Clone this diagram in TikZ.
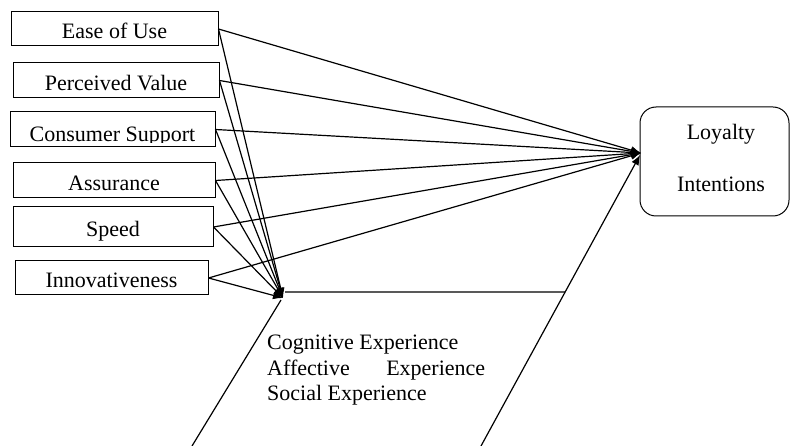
\documentclass[tikz,border=0pt]{standalone}
\usepackage{fontspec}
\setmainfont{Liberation Serif}
\usetikzlibrary{arrows.meta,calc}
\begin{document}
\begin{tikzpicture}[x=1pt,y=-1pt,
  every node/.style={font=\fontsize{22}{26}\selectfont},
  fbox/.style={draw=black, line width=1pt, rectangle, inner sep=0pt,
     text height=20pt, text depth=0pt, align=center},
  arr/.style={line width=1.2pt, -{Latex[length=10pt,width=8pt]}},
  edge/.style={line width=1.2pt}]
\useasboundingbox (0,0) rectangle (790,446);

% factor boxes
\node[fbox, minimum width=207pt, minimum height=34pt] (ease) at (114.5,29) {Ease of Use};
\node[fbox, minimum width=206pt, minimum height=35pt] (pv) at (116,80.5) {Perceived Value};
\node[fbox, minimum width=205pt, minimum height=35pt] (cs) at (112.5,129.5) {};
\begin{scope}
  \clip (10,112) rectangle (215,143);
  \node[anchor=base, inner sep=0pt] (cstext) at (112.5,142) {Consumer Support};
\end{scope}
\node[fbox, minimum width=202pt, minimum height=35pt] (as) at (114,180.5) {Assurance};
\node[fbox, minimum width=200pt, minimum height=40pt] (sp) at (113,227) {Speed};
\node[fbox, minimum width=193pt, minimum height=34pt] (inn) at (111.5,278) {Innovativeness};

% Loyalty box
\node[draw=black, line width=1pt, rounded corners=16pt, minimum width=149pt,
      minimum height=109pt, inner sep=0pt] (loyal) at (714.5,161.5) {};
\node[anchor=base, inner sep=0pt] (loy1) at (721,140) {Loyalty};
\node[anchor=base, inner sep=0pt] (loy2) at (721,192) {Intentions};

% convergence points
\coordinate (C) at (283,298);
\coordinate (L) at (641,153);

% arrows to experience
\foreach \n in {ease,pv,cs,as,sp,inn}{
  \draw[arr] (\n.east) -- (C);
  \draw[arr] (\n.east) -- (L);
}

% experience parallelogram
\coordinate (ptl) at (285,292);
\coordinate (pblt) at (281,300);
\coordinate (pbl) at (192,446);
\coordinate (pbr) at (481,446);
\coordinate (L2) at (640,155);
\coordinate (ptr) at (intersection of pbr--L2 and ptl--{(700,292)});
\draw[edge] (pblt) -- (pbl);
\draw[edge] (ptl) -- (ptr);
\draw[arr] (pbr) -- (L2);

\node[anchor=base west, inner sep=0pt] (t1) at (267,349) {Cognitive Experience};
\node[anchor=base west, inner sep=0pt] (t2) at (267,375) {\makebox[218pt][s]{Affective Experience}};
\node[anchor=base west, inner sep=0pt] (t3) at (267,400) {Social Experience};
\end{tikzpicture}
\end{document}
